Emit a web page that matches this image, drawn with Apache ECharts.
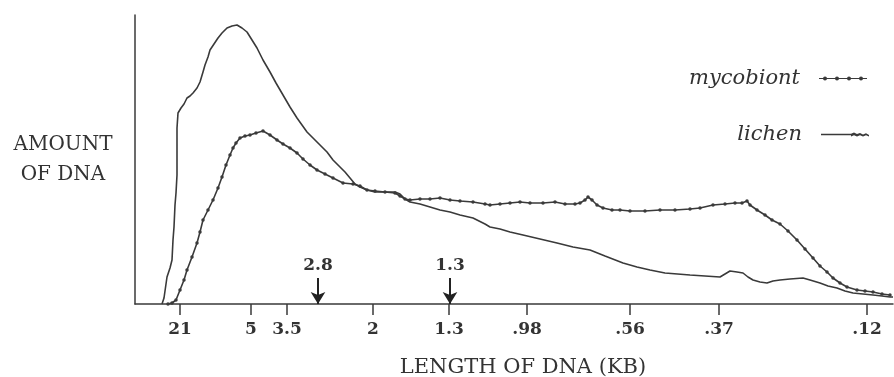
<!DOCTYPE html>
<html>
<head>
<meta charset="utf-8">
<script src="https://cdn.jsdelivr.net/npm/echarts@6/dist/echarts.min.js"></script>
<style>
html,body{margin:0;padding:0;background:#fff;}
#chart{width:894px;height:377px;}
</style>
</head>
<body>
<div id="chart"></div>
<script>
// Size-marker positions on the gel (migration units) and their labels (kb)
const markerLabels = ['21', '5', '3.5', '2', '1.3', '.98', '.56', '.37', '.12'];
const markerMigration = [45, 116, 152, 238, 314, 392, 495, 584, 732];
// Arrowed sizes
const arrowLabels = ['2.8', '1.3'];
const arrowMigration = [183, 315];

// lichen trace
const lichenMigration = [27,29,32,35,37,38,39,40,41,42,42,42,42,43,46,49,52,55,58,62,65,68,70,73,75,79,83,87,92,97,102,107,112,117,122,128,135,141,148,155,162,167,172,179,185,192,198,205,210,215,220,225,232,240,250,260,265,270,275,285,295,305,315,325,338,350,355,365,375,388,405,422,438,455,470,488,502,515,530,555,570,585,590,595,602,608,613,618,625,632,638,645,655,668,675,685,693,702,710,718,728,738,747,755,758];
const lichenAmount = [0,6,27,36,44,64,77,99,111,129,142,159,176,191,196,200,206,208,211,216,222,232,239,247,254,260,266,271,276,278,279,276,272,264,256,244,232,221,209,197,186,179,172,165,159,152,144,137,132,126,120,117,114,112,112,112,110,105,102,100,97,94,92,89,86,80,77,75,72,69,65,61,57,54,48,41,37,34,31,29,28,27,30,33,32,31,27,24,22,21,23,24,25,26,24,21,18,16,13,11,10,9,8,7,7];

// mycobiont trace
const mycoMigration = [33,37,41,45,49,52,57,62,65,68,73,78,83,87,91,95,98,101,105,110,115,121,128,135,142,148,155,162,168,175,182,190,198,208,218,225,232,240,250,260,265,270,275,285,295,305,315,325,338,350,355,365,375,385,395,408,420,430,440,445,450,453,457,462,468,477,485,495,510,525,540,555,565,578,590,600,607,612,615,622,630,637,645,653,662,670,678,685,692,698,705,712,722,730,738,747,755];
const mycoAmount = [0,1,4,14,24,34,47,61,72,84,94,104,116,127,139,149,156,161,166,168,169,171,173,169,164,160,156,151,145,139,134,130,126,121,120,118,114,113,112,111,108,105,104,105,105,106,104,103,102,100,99,100,101,102,101,101,102,100,100,101,104,107,104,99,96,94,94,93,93,94,94,95,96,99,100,101,101,103,99,94,89,84,80,73,64,55,46,38,32,26,21,17,14,13,12,10,9];

const seriesNames = ['mycobiont', 'lichen'];
const xAxisName = 'LENGTH OF DNA (KB)';
const yAxisName = 'AMOUNT\nOF DNA';

const ink = '#3a3a3a';
const serif = 'DejaVu Serif';

function zip(a, b) { return a.map((v, i) => [v, b[i]]); }

const chart = echarts.init(document.getElementById('chart'), null, {renderer: 'canvas'});

const arrowLines = arrowMigration.map((m, i) => [
  {coord: [m, 26], label: {formatter: arrowLabels[i]}},
  {coord: [m, 0]}
]);

const legendCommon = {
  orient: 'vertical',
  align: 'right',
  itemWidth: 48,
  itemHeight: 8,
  selectedMode: false,
  textStyle: {fontFamily: serif, fontStyle: 'italic', fontSize: 21, color: '#333', padding: [0, 14, 0, 0]}
};

const dotIcon = 'path://M0,3.4h48v1.2h-48z M4,4a2,2 0 1,1 4,0a2,2 0 1,1 -4,0z M16,4a2,2 0 1,1 4,0a2,2 0 1,1 -4,0z M28,4a2,2 0 1,1 4,0a2,2 0 1,1 -4,0z M40,4a2,2 0 1,1 4,0a2,2 0 1,1 -4,0z';
const wavyIcon = 'path://M0,3.2h30v1.6h-30z M30,3.2l3,-1.2l3,1.6l3,-1.2l3,1.6l3,-1.2l3,1.6v1.6l-3,-1.2l-3,1.2l-3,-1.2l-3,1.2l-3,-1.2l-3,1.2z';

chart.setOption({
  animation: false,
  backgroundColor: '#fff',
  grid: {left: 135, right: 1, top: 15, bottom: 73, containLabel: false, outerBoundsMode: 'none'},
  legend: [
    Object.assign({}, legendCommon, {right: 22, top: 63, data: [{name: seriesNames[0], icon: dotIcon}]}),
    Object.assign({}, legendCommon, {right: 20, top: 119, data: [{name: seriesNames[1], icon: wavyIcon}]})
  ],
  xAxis: {
    type: 'value',
    min: 0,
    max: 758,
    name: xAxisName,
    nameLocation: 'middle',
    nameGap: 53,
    nameTextStyle: {fontFamily: serif, fontSize: 21, color: '#333', padding: [0, 0, 0, 18]},
    axisLine: {show: true, lineStyle: {color: ink, width: 1.5}},
    axisTick: {show: true, inside: false, length: 11, customValues: markerMigration, lineStyle: {color: ink, width: 1.5}},
    axisLabel: {
      show: true,
      customValues: markerMigration,
      margin: 17,
      fontFamily: serif,
      fontSize: 17,
      fontWeight: 'bold',
      color: '#333',
      formatter: function (v) {
        const i = markerMigration.indexOf(v);
        return i >= 0 ? markerLabels[i] : '';
      }
    },
    splitLine: {show: false}
  },
  yAxis: {
    type: 'value',
    min: 0,
    max: 289,
    name: yAxisName,
    nameLocation: 'middle',
    nameRotate: 0,
    nameGap: 72,
    nameTextStyle: {fontFamily: serif, fontSize: 20, color: '#333', align: 'center', lineHeight: 30, padding: [0, 0, 6, 0]},
    axisLine: {show: true, lineStyle: {color: ink, width: 1.5}},
    axisTick: {show: false},
    axisLabel: {show: false},
    splitLine: {show: false}
  },
  series: [
    {
      name: seriesNames[0],
      type: 'line',
      data: zip(mycoMigration, mycoAmount),
      showSymbol: true,
      showAllSymbol: true,
      symbol: 'circle',
      symbolSize: 3.5,
      itemStyle: {color: ink},
      lineStyle: {color: ink, width: 1.6},
      z: 3
    },
    {
      name: seriesNames[1],
      type: 'line',
      data: zip(lichenMigration, lichenAmount),
      showSymbol: false,
      symbol: 'none',
      itemStyle: {color: ink},
      lineStyle: {color: ink, width: 1.6},
      z: 2,
      markLine: {
        silent: true,
        animation: false,
        symbol: ['none', 'arrow'],
        symbolSize: [11, 12],
        lineStyle: {color: '#222', width: 2, type: 'solid'},
        label: {show: true, position: 'start', distance: 4, fontFamily: serif, fontSize: 17, fontWeight: 'bold', color: '#333'},
        data: arrowLines
      }
    }
  ]
});
</script>
</body>
</html>
